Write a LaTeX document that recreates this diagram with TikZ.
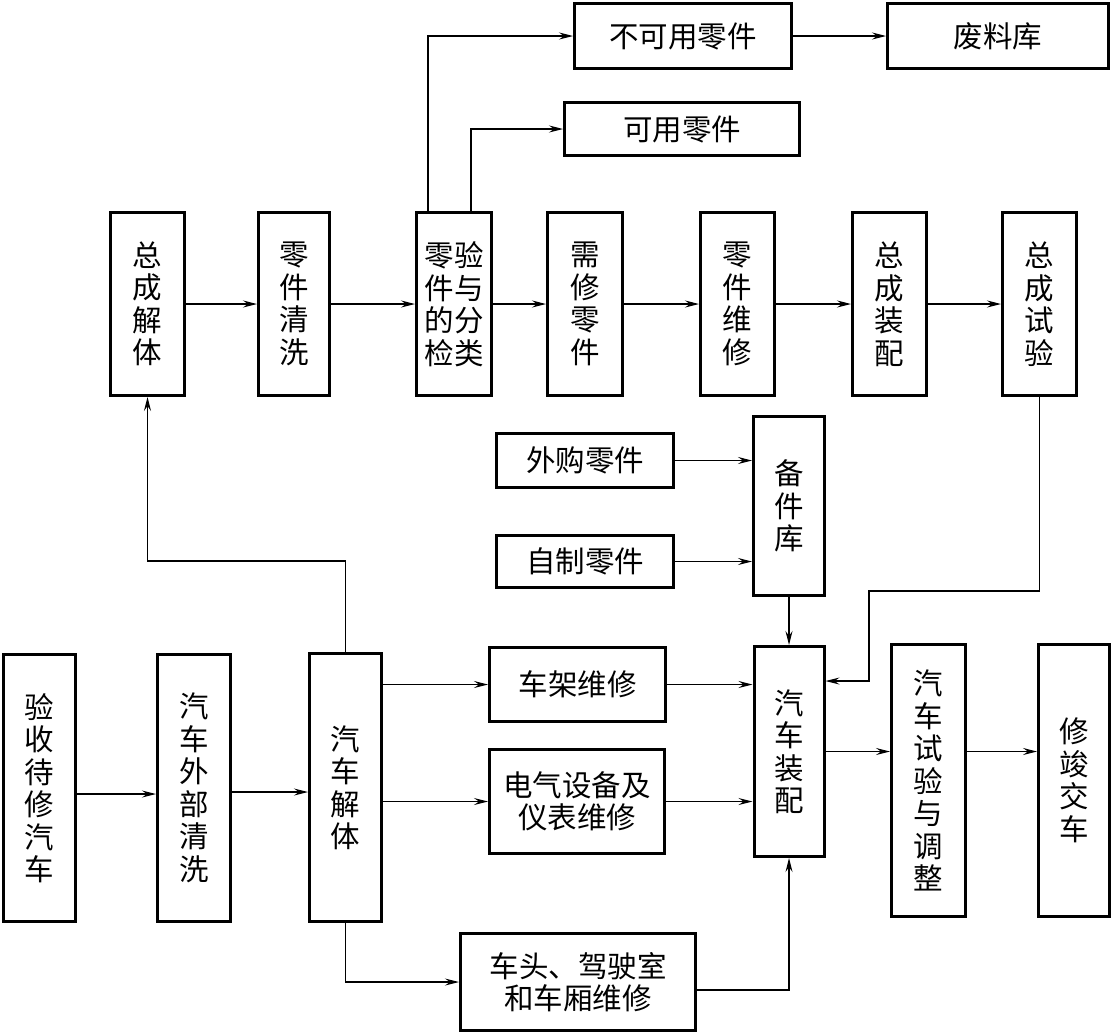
\documentclass[tikz,border=0pt]{standalone}
\usepackage{fontspec}
\setmainfont{Noto Sans CJK SC}
\usepackage{tikz}
\usetikzlibrary{arrows.meta}
\usetikzlibrary{positioning}
\tikzstyle{arrow} = [line width=1.2pt, -{Stealth[length=14pt,width=7pt,inset=5pt]}]
\tikzstyle{block} = [
    rectangle, draw=black, line width=3pt, inner sep=0pt, align=center,
    font=\fontsize{29.5}{32.5}\selectfont]

\begin{document}
\begin{tikzpicture}[x=1pt, y=-1pt]
\useasboundingbox (0,0) rectangle (1113,1034);

% upper row: assemblies
\node (zcjt) [block, minimum width=74, minimum height=183] at (147.5,304) {总\\成\\解\\体};
\node (ljqx) [block, minimum width=71, minimum height=183] at (294,304) {零\\件\\清\\洗};
\node (jyfl) [block, minimum width=75, minimum height=183] at (454,304) {零验\\件与\\的分\\检类};
\node (xxlj) [block, minimum width=75, minimum height=183] at (585,304) {需\\修\\零\\件};
\node (ljwx) [block, minimum width=74, minimum height=183] at (737.5,304) {零\\件\\维\\修};
\node (zczp) [block, minimum width=74, minimum height=183] at (889.5,304) {总\\成\\装\\配};
\node (zcsy) [block, minimum width=74, minimum height=183] at (1039.5,304) {总\\成\\试\\验};

\node (bky) [block, minimum width=217, minimum height=65] at (683,36) {不可用零件};
\node (flk) [block, minimum width=221, minimum height=65] at (998,36) {废料库};
\node (ky) [block, minimum width=235, minimum height=53] at (682,129) {可用零件};

% spare parts
\node (wg) [block, minimum width=177, minimum height=54] at (585,460.5) {外购零件};
\node (zz) [block, minimum width=177, minimum height=52] at (585,561.5) {自制零件};
\node (bjk) [block, minimum width=71, minimum height=179] at (789,506) {备\\件\\库};

% lower row: vehicle
\node (ys) [block, minimum width=72, minimum height=267] at (39.5,788) {验\\收\\待\\修\\汽\\车};
\node (wbqx) [block, minimum width=73, minimum height=267] at (194,788) {汽\\车\\外\\部\\清\\洗};
\node (qcjt) [block, minimum width=72, minimum height=268] at (345.5,787.5) {汽\\车\\解\\体};
\node (cj) [block, minimum width=176, minimum height=74] at (577.5,684.5) {车架维修};
\node (dq) [block, minimum width=175, minimum height=104] at (577,801.5) {电气设备及\\仪表维修};
\node (ct) [block, minimum width=235, minimum height=97] at (578,982) {车头、驾驶室\\和车厢维修};
\node (qczp) [block, minimum width=70, minimum height=210] at (789,751.5) {汽\\车\\装\\配};
\node (qcsy) [block, minimum width=74, minimum height=272] at (928.5,780.5) {汽\\车\\试\\验\\与\\调\\整};
\node (xjjc) [block, minimum width=71, minimum height=272] at (1074,780.5) {修\\竣\\交\\车};

\coordinate (bend1) at (869,591);

\draw [arrow] (zcjt) -- (ljqx);
\draw [arrow] (ljqx) -- (jyfl);
\draw [arrow] (jyfl) -- (xxlj);
\draw [arrow] (xxlj) -- (ljwx);
\draw [arrow] (ljwx) -- (zczp);
\draw [arrow] (zczp) -- (zcsy);
\draw [arrow] ([xshift=-26]jyfl.north) |- (bky);
\draw [arrow] ([xshift=17]jyfl.north) |- (ky);
\draw [arrow] (bky) -- (flk);
\draw [arrow] (zcsy.south) |- (bend1) |- ([yshift=70.5]qczp.east);

\draw [arrow] (wg) -- (wg -| bjk.west);
\draw [arrow] (zz) -- (zz -| bjk.west);
\draw [arrow] (bjk) -- (qczp);

\draw [arrow] ([yshift=-6]ys.east) -- ([yshift=-6]ys.east -| wbqx.west);
\draw [arrow] ([yshift=-4]wbqx.east) -- ([yshift=-4]wbqx.east -| qcjt.west);
\draw [arrow] (qcjt.north) -- ++(0,-91) -| (zcjt.south);
\draw [arrow] (qcjt.east |- cj.west) -- (cj.west);
\draw [arrow] (qcjt.east |- dq.west) -- (dq.west);
\draw [arrow] (qcjt.south) |- (ct.west);
\draw [arrow] (cj.east) -- (cj.east -| qczp.west);
\draw [arrow] (dq.east) -- (dq.east -| qczp.west);
\draw [arrow] ([yshift=-8]ct.east) -| (qczp.south);
\draw [arrow] (qczp.east) -- (qczp.east -| qcsy.west);
\draw [arrow] (qczp.east -| qcsy.east) -- (qczp.east -| xjjc.west);
\end{tikzpicture}
\end{document}
